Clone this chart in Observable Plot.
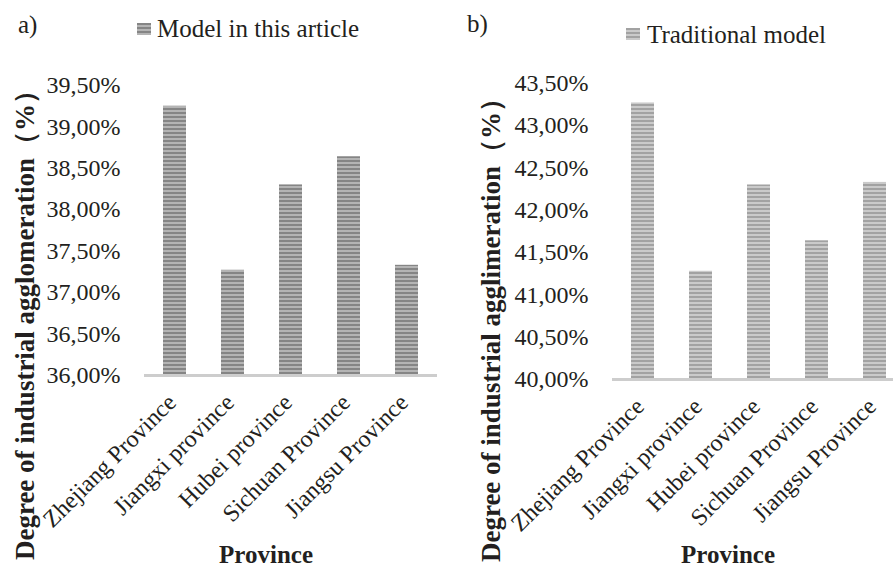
<!DOCTYPE html>
<html>
<head>
<meta charset="utf-8">
<script src="https://cdn.jsdelivr.net/npm/d3@7"></script>
<script src="https://cdn.jsdelivr.net/npm/@observablehq/plot@0.6"></script>
<style>
  html, body { margin: 0; padding: 0; background: #fff; overflow: hidden; }
  #wrap { position: relative; width: 893px; height: 572px; overflow: hidden; font-family: "Liberation Serif", "Times New Roman", serif; color: #231f20; }
  .abs { position: absolute; white-space: nowrap; line-height: 1; font-family: "Liberation Serif", "Times New Roman", serif; }
  .t { font-size: 25px; }
  .bold { font-weight: bold; }
  .sw { position: absolute; }
  #plotA, #plotB { position: absolute; top: 0; height: 572px; }
  #plotA { left: 0; width: 450px; }
  #plotB { left: 450px; width: 470px; }
  #plotA svg, #plotB svg { max-width: none !important; }
  svg text { font-family: "Liberation Serif", "Times New Roman", serif; }
</style>
</head>
<body>
<div id="wrap">
  <div id="plotA"></div>
  <div id="plotB"></div>
</div>
<script>
// ---- data ----
const provinces = ["Zhejiang Province", "Jiangxi province", "Hubei province", "Sichuan Province", "Jiangsu Province"];
const modelValues = [39.25, 37.27, 38.30, 38.64, 37.33];          // Model in this article (%)
const traditionalValues = [43.27, 41.28, 42.30, 41.64, 42.33];   // Traditional model (%)
const ticksA = [36.0, 36.5, 37.0, 37.5, 38.0, 38.5, 39.0, 39.5];
const ticksB = [40.0, 40.5, 41.0, 41.5, 42.0, 42.5, 43.0, 43.5];
const panelLabels = ["a)", "b)"];
const seriesNames = ["Model in this article", "Traditional model"];
const yTitles = ["Degree of industrial agglomeration（%）", "Degree of industrial agglimeration（%）"];
const xTitle = "Province";

const fmt = d => d.toFixed(2).replace(".", ",") + "%";
const FONT = "Liberation Serif";

function addPattern(svg, id, dark, light) {
  const ns = "http://www.w3.org/2000/svg";
  const defs = document.createElementNS(ns, "defs");
  const pat = document.createElementNS(ns, "pattern");
  pat.setAttribute("id", id);
  pat.setAttribute("patternUnits", "userSpaceOnUse");
  pat.setAttribute("width", 4);
  pat.setAttribute("height", 4);
  const r1 = document.createElementNS(ns, "rect");
  r1.setAttribute("width", 4); r1.setAttribute("height", 4); r1.setAttribute("fill", light);
  const r2 = document.createElementNS(ns, "rect");
  r2.setAttribute("width", 4); r2.setAttribute("height", 2); r2.setAttribute("fill", dark);
  pat.appendChild(r1); pat.appendChild(r2);
  defs.appendChild(pat);
  svg.insertBefore(defs, svg.firstChild);
}

function makePanel({values, ticks, patternId, dark, light, width, marginLeft, marginRight, marginTop, marginBottom}) {
  const data = provinces.map((p, i) => ({province: p, value: values[i]}));
  const base = ticks[0];
  const svg = Plot.plot({
    width, height: 572,
    marginLeft, marginRight, marginTop, marginBottom,
    style: {fontFamily: FONT, fontSize: "24px", color: "#231f20", background: "transparent", overflow: "visible", maxWidth: "none"},
    x: {type: "band", domain: provinces, paddingInner: 0.6, paddingOuter: 0.3},
    y: {domain: [ticks[0], ticks[ticks.length - 1]]},
    marks: [
      Plot.barY(data, {x: "province", y1: base, y2: "value", fill: `url(#${patternId})`}),
      Plot.ruleY([base], {stroke: "#cdcdcd", strokeWidth: 3}),
      Plot.axisY({ticks, tickFormat: fmt, tickSize: 0, tickPadding: 24, fontSize: 24, fontFamily: FONT, fontVariant: "normal", label: null}),
      Plot.axisX({tickRotate: -45, tickSize: 0, tickPadding: 23, dx: -3, fontSize: 24, fontFamily: FONT, label: null})
    ]
  });
  addPattern(svg, patternId, dark, light);
  return svg;
}

document.getElementById("plotA").appendChild(makePanel({
  values: modelValues, ticks: ticksA, patternId: "stripesA", dark: "#858585", light: "#b4b4b4",
  width: 450, marginLeft: 144, marginRight: 13, marginTop: 85, marginBottom: 197
}));
document.getElementById("plotB").appendChild(makePanel({
  values: traditionalValues, ticks: ticksB, patternId: "stripesB", dark: "#a2a2a2", light: "#cacaca",
  width: 470, marginLeft: 162, marginRight: 15.5, marginTop: 83, marginBottom: 193
}));

// ---- annotations (labels, legends, titles) ----
const wrap = document.getElementById("wrap");
function addText(txt, cls, left, top, extra = {}) {
  const d = document.createElement("div");
  d.className = "abs " + cls;
  d.textContent = txt;
  d.style.left = left + "px";
  d.style.top = top + "px";
  Object.assign(d.style, extra);
  wrap.appendChild(d);
  return d;
}
function addSwatch(left, top, dark, light) {
  const s = document.createElement("div");
  s.className = "sw";
  Object.assign(s.style, {left: left + "px", top: top + "px", width: "14px", height: "12px",
    background: `repeating-linear-gradient(to bottom, ${dark} 0px, ${dark} 2px, ${light} 2px, ${light} 4px)`});
  wrap.appendChild(s);
}
addText(panelLabels[0], "t", 18, 12);
addText(panelLabels[1], "t", 467, 11);
addSwatch(137, 23, "#858585", "#b4b4b4");
addText(seriesNames[0], "t", 157, 16);
addSwatch(626, 28, "#a2a2a2", "#cacaca");
addText(seriesNames[1], "t", 647, 22);

function addCentered(txt, cls, cx, top) {
  const d = addText(txt, cls, 0, top);
  const w = d.getBoundingClientRect().width;
  d.style.left = (cx - w / 2) + "px";
}
addCentered(xTitle, "t bold", 266, 542);
addCentered(xTitle, "t bold", 728, 542);

function addVertical(txt, cx, cy) {
  const d = addText(txt, "t bold", 0, 0, {fontSize: "27px"});
  const r = d.getBoundingClientRect();
  d.style.left = (cx - r.width / 2) + "px";
  d.style.top = (cy - r.height / 2) + "px";
  d.style.transform = "rotate(-90deg)";
  d.style.transformOrigin = "50% 50%";
}
addVertical(yTitles[0], 26, 318);
addVertical(yTitles[1], 492, 323);
</script>
</body>
</html>
